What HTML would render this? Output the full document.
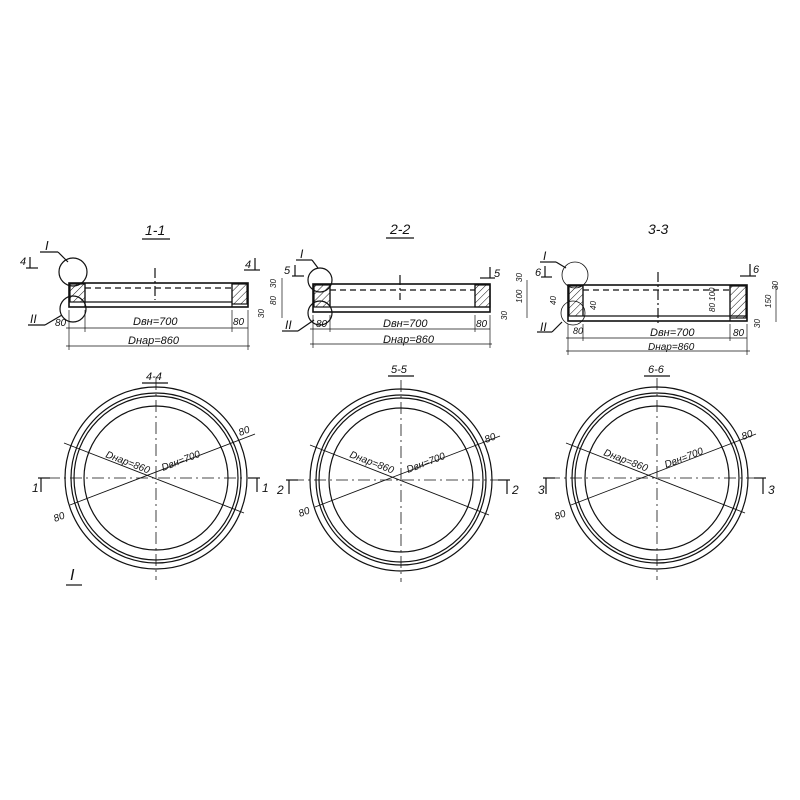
<!DOCTYPE html>
<html><head><meta charset="utf-8"><style>
html,body{margin:0;padding:0;background:#fff;width:800px;height:800px;overflow:hidden}
text{font-family:"Liberation Sans",sans-serif;font-style:italic;fill:#111}
</style></head><body>
<svg width="800" height="800" viewBox="0 0 800 800" xmlns="http://www.w3.org/2000/svg" stroke="#111" fill="none" stroke-width="1.2">
<defs>
<pattern id="h" width="5" height="5" patternUnits="userSpaceOnUse" patternTransform="rotate(45)"><line x1="0" y1="0" x2="0" y2="5" stroke="#111" stroke-width="1"/></pattern>
</defs>

<!-- ===== Section 1-1 ===== -->
<text x="145" y="235" font-size="14" stroke="none">1-1</text>
<line x1="142" y1="239" x2="170" y2="239"/>
<rect x="69" y="283" width="179" height="24" stroke-width="1.6"/>
<line x1="85" y1="288" x2="232" y2="288" stroke-dasharray="6,4"/>
<line x1="85" y1="302" x2="232" y2="302"/>
<rect x="70" y="284" width="15" height="18" fill="url(#h)"/>
<rect x="232" y="284" width="15" height="20" fill="url(#h)"/>
<line x1="85" y1="283" x2="85" y2="307"/><line x1="232" y1="283" x2="232" y2="307"/>
<circle cx="73" cy="272" r="14"/><circle cx="73" cy="309" r="13"/>
<line x1="155" y1="268" x2="155" y2="300" stroke-dasharray="10,3,2,3"/>
<text x="45" y="250" font-size="13" stroke="none">I</text><line x1="40" y1="252" x2="58" y2="252"/><line x1="58" y1="252" x2="68" y2="262"/>
<text x="20" y="265" font-size="11" stroke="none">4</text><line x1="30" y1="257" x2="30" y2="268"/><line x1="26" y1="268" x2="38" y2="268"/>
<text x="245" y="268" font-size="11" stroke="none">4</text><line x1="255" y1="258" x2="255" y2="270"/><line x1="244" y1="270" x2="260" y2="270"/>
<text x="30" y="323" font-size="12" stroke="none">II</text><line x1="28" y1="325" x2="45" y2="325"/><line x1="45" y1="325" x2="62" y2="315"/>
<line x1="66" y1="328" x2="248" y2="328" stroke-width="0.8"/>
<line x1="66" y1="346" x2="250" y2="346" stroke-width="0.8"/>
<line x1="69" y1="310" x2="69" y2="350" stroke-width="0.7"/><line x1="248" y1="310" x2="248" y2="350" stroke-width="0.7"/>
<line x1="85" y1="310" x2="85" y2="332" stroke-width="0.7"/><line x1="232" y1="310" x2="232" y2="332" stroke-width="0.7"/>
<text x="55" y="326" font-size="10" stroke="none">80</text>
<text x="133" y="325" font-size="11" stroke="none">Dвн=700</text>
<text x="233" y="325" font-size="10" stroke="none">80</text>
<text x="128" y="344" font-size="11" stroke="none">Dнар=860</text>
<line x1="282" y1="278" x2="282" y2="318" stroke-width="0.7"/>
<text x="276" y="288" font-size="8" stroke="none" transform="rotate(-90 276 288)">30</text>
<text x="276" y="305" font-size="8" stroke="none" transform="rotate(-90 276 305)">80</text>
<text x="264" y="318" font-size="8" stroke="none" transform="rotate(-90 264 318)">30</text>

<!-- ===== Section 2-2 ===== -->
<text x="390" y="234" font-size="14" stroke="none">2-2</text>
<line x1="386" y1="238" x2="414" y2="238"/>
<rect x="313" y="284" width="177" height="28" stroke-width="1.6"/>
<line x1="330" y1="290" x2="475" y2="290" stroke-dasharray="6,4"/>
<line x1="330" y1="307" x2="490" y2="307"/>
<rect x="314" y="285" width="16" height="22" fill="url(#h)"/>
<rect x="475" y="285" width="15" height="22" fill="url(#h)"/>
<line x1="330" y1="284" x2="330" y2="307"/><line x1="475" y1="284" x2="475" y2="307"/>
<circle cx="320" cy="280" r="12"/><circle cx="320" cy="313" r="12"/>
<line x1="400" y1="275" x2="400" y2="300" stroke-dasharray="10,3,2,3"/>
<text x="300" y="258" font-size="12" stroke="none">I</text><line x1="296" y1="260" x2="312" y2="260"/><line x1="312" y1="260" x2="318" y2="268"/>
<text x="284" y="274" font-size="11" stroke="none">5</text><line x1="295" y1="265" x2="295" y2="276"/><line x1="292" y1="276" x2="304" y2="276"/>
<text x="494" y="277" font-size="11" stroke="none">5</text><line x1="490" y1="267" x2="490" y2="278"/><line x1="480" y1="278" x2="495" y2="278"/>
<text x="285" y="329" font-size="12" stroke="none">II</text><line x1="282" y1="331" x2="298" y2="331"/><line x1="298" y1="331" x2="314" y2="320"/>
<line x1="310" y1="329" x2="490" y2="329" stroke-width="0.8"/>
<line x1="310" y1="344" x2="492" y2="344" stroke-width="0.8"/>
<line x1="313" y1="315" x2="313" y2="348" stroke-width="0.7"/><line x1="490" y1="315" x2="490" y2="348" stroke-width="0.7"/>
<line x1="330" y1="315" x2="330" y2="332" stroke-width="0.7"/><line x1="475" y1="315" x2="475" y2="332" stroke-width="0.7"/>
<text x="316" y="327" font-size="10" stroke="none">80</text>
<text x="383" y="327" font-size="11" stroke="none">Dвн=700</text>
<text x="476" y="327" font-size="10" stroke="none">80</text>
<text x="383" y="343" font-size="11" stroke="none">Dнар=860</text>
<line x1="527" y1="280" x2="527" y2="318" stroke-width="0.7"/>
<text x="522" y="282" font-size="8" stroke="none" transform="rotate(-90 522 282)">30</text>
<text x="522" y="303" font-size="8" stroke="none" transform="rotate(-90 522 303)">100</text>
<text x="507" y="320" font-size="8" stroke="none" transform="rotate(-90 507 320)">30</text>

<!-- ===== Section 3-3 ===== -->
<text x="648" y="234" font-size="14" stroke="none">3-3</text>
<rect x="568" y="285" width="179" height="36" stroke-width="1.6"/>
<line x1="583" y1="290" x2="730" y2="290" stroke-dasharray="6,4"/>
<line x1="583" y1="316" x2="747" y2="316"/>
<rect x="569" y="286" width="14" height="30" fill="url(#h)"/>
<rect x="730" y="286" width="16" height="32" fill="url(#h)"/>
<line x1="583" y1="285" x2="583" y2="316"/><line x1="730" y1="285" x2="730" y2="321"/>
<circle cx="575" cy="275" r="13" stroke-width="0.8"/><circle cx="573" cy="313" r="12" stroke-width="0.8"/>
<line x1="658" y1="272" x2="658" y2="325" stroke-dasharray="10,3,2,3"/>
<text x="543" y="260" font-size="12" stroke="none">I</text><line x1="540" y1="262" x2="556" y2="262"/><line x1="556" y1="262" x2="566" y2="268"/>
<text x="535" y="276" font-size="11" stroke="none">6</text><line x1="545" y1="266" x2="545" y2="277"/><line x1="541" y1="277" x2="552" y2="277"/>
<text x="753" y="273" font-size="11" stroke="none">6</text><line x1="750" y1="264" x2="750" y2="276"/><line x1="740" y1="276" x2="756" y2="276"/>
<text x="540" y="331" font-size="12" stroke="none">II</text><line x1="537" y1="332" x2="552" y2="332"/><line x1="552" y1="332" x2="562" y2="322"/>
<line x1="566" y1="338" x2="747" y2="338" stroke-width="0.8"/>
<line x1="566" y1="351" x2="750" y2="351" stroke-width="0.8"/>
<line x1="568" y1="324" x2="568" y2="355" stroke-width="0.7"/><line x1="747" y1="324" x2="747" y2="355" stroke-width="0.7"/>
<line x1="583" y1="324" x2="583" y2="341" stroke-width="0.7"/><line x1="730" y1="324" x2="730" y2="341" stroke-width="0.7"/>
<text x="573" y="334" font-size="9" stroke="none">80</text>
<text x="650" y="336" font-size="11" stroke="none">Dвн=700</text>
<text x="733" y="336" font-size="10" stroke="none">80</text>
<text x="648" y="350" font-size="10" stroke="none">Dнар=860</text>
<text x="556" y="305" font-size="8" stroke="none" transform="rotate(-90 556 305)">40</text>
<text x="596" y="310" font-size="8" stroke="none" transform="rotate(-90 596 310)">40</text>
<text x="715" y="312" font-size="8" stroke="none" transform="rotate(-90 715 312)">80 100</text>
<line x1="776" y1="285" x2="776" y2="322" stroke-width="0.7"/>
<text x="778" y="290" font-size="8" stroke="none" transform="rotate(-90 778 290)">30</text>
<text x="771" y="308" font-size="8" stroke="none" transform="rotate(-90 771 308)">150</text>
<text x="760" y="328" font-size="8" stroke="none" transform="rotate(-90 760 328)">30</text>

<!-- ===== Circles ===== -->
<g id="c1">
<circle cx="156" cy="478" r="91"/><circle cx="156" cy="478" r="85"/><circle cx="156" cy="478" r="82"/><circle cx="156" cy="478" r="72"/>
<line x1="156" y1="378" x2="156" y2="580" stroke-dasharray="12,4,2,4" stroke-width="0.8"/>
<line x1="48" y1="478" x2="245" y2="478" stroke-dasharray="12,4,2,4" stroke-width="0.8"/>
<line x1="64" y1="443" x2="244" y2="513" stroke-width="0.9"/>
<line x1="70" y1="505" x2="255" y2="434" stroke-width="0.9"/>
</g>
<text x="146" y="380" font-size="11" stroke="none">4-4</text><line x1="142" y1="383" x2="168" y2="383"/>
<text x="105" y="457" font-size="10" stroke="none" transform="rotate(21 105 457)">Dнар=860</text>
<text x="163" y="471" font-size="10" stroke="none" transform="rotate(-21 163 471)">Dвн=700</text>
<text x="240" y="436" font-size="10" stroke="none" transform="rotate(-21 240 436)">80</text>
<text x="55" y="522" font-size="10" stroke="none" transform="rotate(-21 55 522)">80</text>
<text x="32" y="492" font-size="12" stroke="none">1</text><line x1="38" y1="478" x2="50" y2="478"/><line x1="41" y1="478" x2="41" y2="492"/>
<text x="262" y="492" font-size="12" stroke="none">1</text><line x1="248" y1="478" x2="260" y2="478"/><line x1="257" y1="478" x2="257" y2="492"/>
<text x="70" y="580" font-size="16" stroke="none" font-style="normal">I</text><line x1="66" y1="585" x2="82" y2="585"/>

<g>
<circle cx="401" cy="480" r="91"/><circle cx="401" cy="480" r="85"/><circle cx="401" cy="480" r="82"/><circle cx="401" cy="480" r="72"/>
<line x1="401" y1="380" x2="401" y2="582" stroke-dasharray="12,4,2,4" stroke-width="0.8"/>
<line x1="292" y1="480" x2="505" y2="480" stroke-dasharray="12,4,2,4" stroke-width="0.8"/>
<line x1="310" y1="445" x2="489" y2="515" stroke-width="0.9"/>
<line x1="315" y1="507" x2="500" y2="436" stroke-width="0.9"/>
</g>
<text x="391" y="373" font-size="11" stroke="none">5-5</text><line x1="388" y1="376" x2="414" y2="376"/>
<text x="349" y="457" font-size="10" stroke="none" transform="rotate(21 349 457)">Dнар=860</text>
<text x="408" y="473" font-size="10" stroke="none" transform="rotate(-21 408 473)">Dвн=700</text>
<text x="486" y="443" font-size="10" stroke="none" transform="rotate(-21 486 443)">80</text>
<text x="300" y="517" font-size="10" stroke="none" transform="rotate(-21 300 517)">80</text>
<text x="277" y="494" font-size="12" stroke="none">2</text><line x1="286" y1="480" x2="298" y2="480"/><line x1="289" y1="480" x2="289" y2="494"/>
<text x="512" y="494" font-size="12" stroke="none">2</text><line x1="498" y1="480" x2="510" y2="480"/><line x1="507" y1="480" x2="507" y2="494"/>

<g>
<circle cx="657" cy="478" r="91"/><circle cx="657" cy="478" r="85"/><circle cx="657" cy="478" r="82"/><circle cx="657" cy="478" r="72"/>
<line x1="657" y1="378" x2="657" y2="580" stroke-dasharray="12,4,2,4" stroke-width="0.8"/>
<line x1="548" y1="478" x2="762" y2="478" stroke-dasharray="12,4,2,4" stroke-width="0.8"/>
<line x1="566" y1="443" x2="745" y2="513" stroke-width="0.9"/>
<line x1="571" y1="505" x2="756" y2="434" stroke-width="0.9"/>
</g>
<text x="648" y="373" font-size="11" stroke="none">6-6</text><line x1="644" y1="376" x2="670" y2="376"/>
<text x="603" y="455" font-size="10" stroke="none" transform="rotate(21 603 455)">Dнар=860</text>
<text x="666" y="468" font-size="10" stroke="none" transform="rotate(-21 666 468)">Dвн=700</text>
<text x="743" y="440" font-size="10" stroke="none" transform="rotate(-21 743 440)">80</text>
<text x="556" y="520" font-size="10" stroke="none" transform="rotate(-21 556 520)">80</text>
<text x="538" y="494" font-size="12" stroke="none">3</text><line x1="543" y1="478" x2="555" y2="478"/><line x1="546" y1="478" x2="546" y2="494"/>
<text x="768" y="494" font-size="12" stroke="none">3</text><line x1="754" y1="478" x2="766" y2="478"/><line x1="763" y1="478" x2="763" y2="494"/>
</svg>
</body></html>
